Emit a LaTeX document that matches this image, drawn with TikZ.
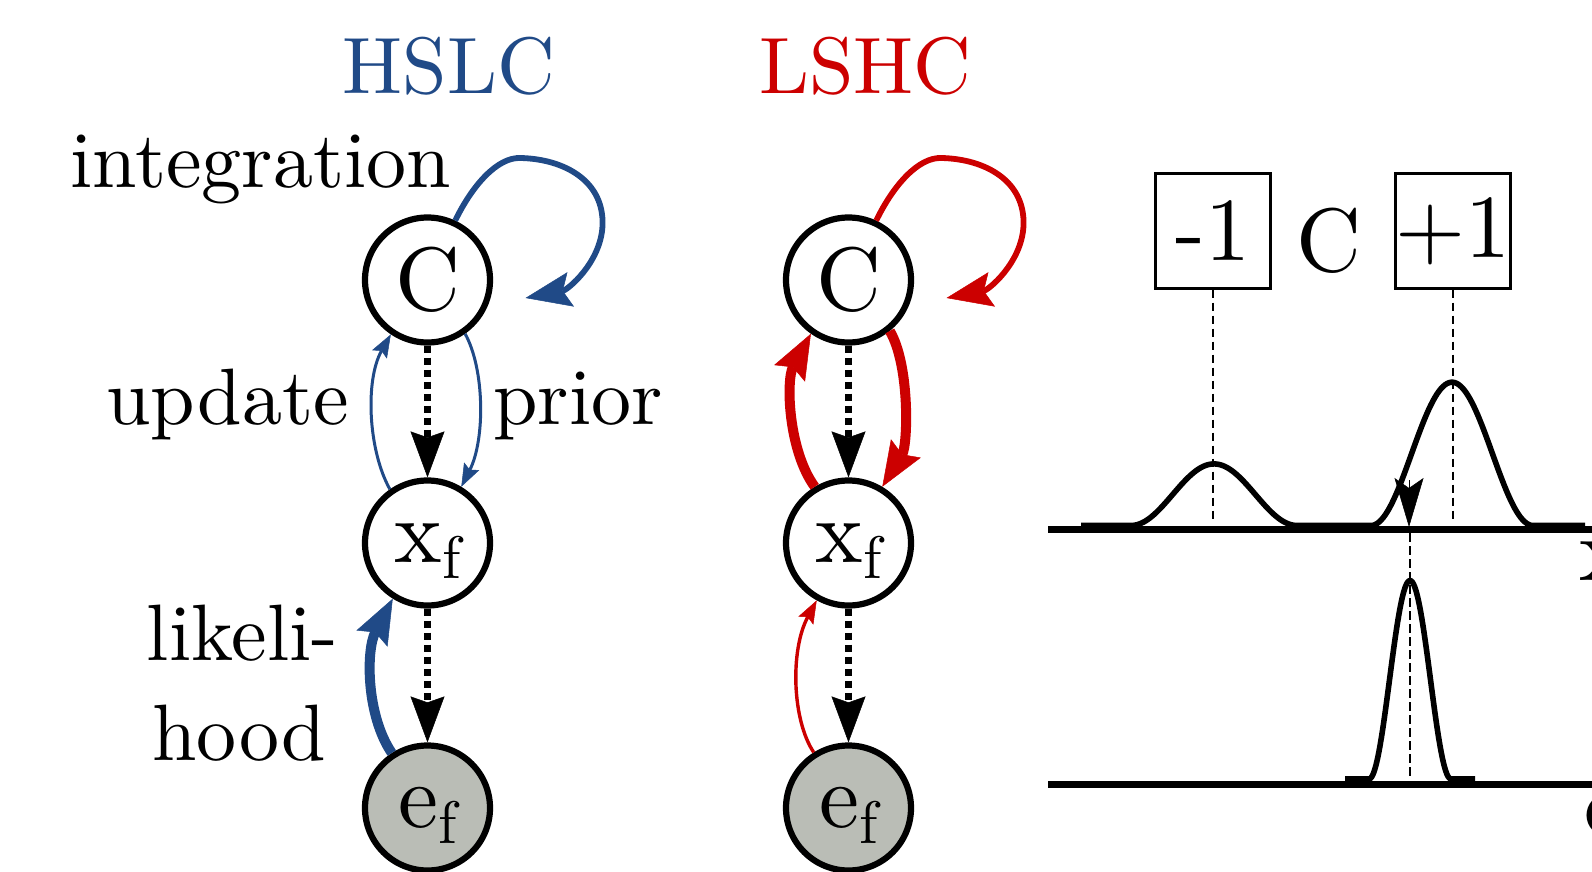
\documentclass[tikz,border=0pt]{standalone}
\usepackage{fontspec}
\setmainfont{lmroman10-regular.otf}
\usetikzlibrary{arrows.meta,calc}
\definecolor{hsblue}{HTML}{204A87}
\definecolor{lsred}{HTML}{CC0000}
\definecolor{obsgray}{HTML}{BABDB6}
\newcommand{\labfont}{\fontsize{80}{96}\selectfont}
\newcommand{\nodefont}{\fontsize{90}{108}\selectfont}
\newcommand{\lowsub}[2]{#1\raisebox{-16pt}{\fontsize{60}{72}\selectfont #2}}

\begin{document}
\begin{tikzpicture}[x=1pt,y=-1pt,
  var/.style={circle, draw, line width=6.2pt, minimum size=125pt, inner sep=0pt, font=\nodefont},
  lowvar/.style={var, text height=45pt, text depth=7pt},
  obs/.style={lowvar, fill=obsgray},
  gen/.style={line width=7.5pt, dash pattern=on 7pt off 5pt,
    -{Stealth[length=46pt,width=34pt,inset=6pt,line width=0.5pt]}},
  weakarr/.style={line width=3pt, -{Stealth[length=23pt,width=17pt,inset=4pt,line width=0.5pt]}},
  strongarr/.style={line width=10pt, -{Stealth[length=45pt,width=35pt,inset=7pt,line width=0.5pt]}},
  looparr/.style={line width=5.8pt, -{Stealth[length=46pt,width=35pt,inset=8pt,line width=0.5pt]}},
  lab/.style={font=\labfont, inner sep=0pt},
  box/.style={draw, line width=2.7pt, minimum width=115pt, minimum height=114.5pt, inner sep=0pt, font=\nodefont},
  guide/.style={line width=2.6pt, dash pattern=on 8.5pt off 4.5pt},
  axis/.style={line width=6.3pt},
  curve/.style={line width=5.6pt, line join=round}]
\useasboundingbox (0,0) rectangle (1592,872);

% ---- titles and labels
\node[lab, text=hsblue, anchor=base] (t1) at (449,94) {HSLC};
\node[lab, text=lsred, anchor=base] (t2) at (865.5,94) {LSHC};
\node[lab, anchor=base east] (lint) at (451,187) {integration};
\node[lab, anchor=base east] (lupd) at (349,424) {update};
\node[lab, anchor=base west] (lpri) at (493,424) {prior};
\node[lab, anchor=base] (llik) at (242.5,660) {likeli-};
\node[lab, anchor=base] (lhood) at (239,760) {hood};

% ---- left model
\node[var] (C1) at (427.5,280) {C};
\node[lowvar] (X1) at (427.5,543) {\lowsub{x}{f}};
\node[obs] (E1) at (427.5,808) {\lowsub{e}{f}};

% ---- right model
\node[var] (C2) at (848.5,280) {C};
\node[lowvar] (X2) at (848.5,543) {\lowsub{x}{f}};
\node[obs] (E2) at (848.5,808) {\lowsub{e}{f}};

% generative (dotted) links
\draw[gen] (C1) -- (X1);
\draw[gen] (X1) -- (E1);
\draw[gen] (C2) -- (X2);
\draw[gen] (X2) -- (E2);

% integration loops
\coordinate (L1end) at ($(C1)+(98,18)$);
\draw[looparr, hsblue] (C1.65) .. controls ($(C1)+(45,-95)$) and ($(C1)+(70,-123)$) .. ($(C1)+(93,-122)$)
  .. controls ($(C1)+(137,-121)$) and ($(C1)+(177,-99)$) .. ($(C1)+(175,-54)$)
  .. controls ($(C1)+(173,-17)$) and ($(C1)+(140,10)$) .. (L1end);
\coordinate (L2end) at ($(C2)+(98,18)$);
\draw[looparr, lsred] (C2.65) .. controls ($(C2)+(45,-95)$) and ($(C2)+(70,-123)$) .. ($(C2)+(93,-122)$)
  .. controls ($(C2)+(137,-121)$) and ($(C2)+(177,-99)$) .. ($(C2)+(175,-54)$)
  .. controls ($(C2)+(173,-17)$) and ($(C2)+(140,10)$) .. (L2end);

% inference links, left (HSLC)
\draw[weakarr, hsblue] (X1.125) .. controls (368,450) and (365,380) .. (C1.236);
\draw[weakarr, hsblue] (C1.-55) .. controls (485,370) and (485,440) .. (X1.59);
\draw[strongarr, hsblue] (E1.123) .. controls (366,715) and (366,650) .. (X1.238);

% inference links, right (LSHC)
\draw[strongarr, lsred] (X2.121) .. controls (788,450) and (786,380) .. (C2.235);
\draw[strongarr, lsred] (C2.-51) .. controls (910,365) and (908,445) .. (X2.59);
\draw[weakarr, lsred, line width=3.4pt] (E2.122) .. controls (792,720) and (790,650) .. (X2.241);

% ---- densities
\node[box] (m1) at (1213,231) {-1};
\node[box] (p1) at (1453,231) {+1};
\node[font=\nodefont, inner sep=0pt] (cl) at (1329,240.5) {C};
\coordinate (base1) at (0,523);
\draw[guide] (m1.south) -- (m1.south |- base1);
\draw[guide] (p1.south) -- (p1.south |- base1);

\draw[axis] (1048,529.5) -- (1600,529.5);
\draw[axis] (1048,784.5) -- (1600,784.5);

\draw[curve] (1081,525.5) -- (1131,525.5)
  -- plot[domain=1131:1297, samples=80] (\x,{525.5-30.8*(1+cos(180*(\x-1214)/83))})
  -- (1371,525.5)
  -- plot[domain=1371:1533, samples=80] (\x,{525.5-71.65*(1+cos(180*(\x-1452)/81))})
  -- (1585,525.5);

\draw[curve] (1345,779) -- (1369,779)
  -- plot[domain=1369:1451, samples=60] (\x,{779-99.25*(1+cos(180*(\x-1410)/41))})
  -- (1475,779);

% sampled value
\coordinate (smpl) at (1409,527);
\coordinate (smplbk) at (1409,480);
\draw[line width=1pt, -{Stealth[length=49pt,width=29pt,inset=10pt,line width=0.5pt]}] (smplbk) -- (smpl);
\coordinate (dtop) at (1410,533);
\coordinate (dbot) at (1410,777);
\draw[guide] (dtop) -- (dbot);

% axis names
\node[font=\nodefont, anchor=base west, inner sep=0pt] (xlab) at (1579,580) {\lowsub{x}{f}};
\node[font=\nodefont, anchor=base west, inner sep=0pt] (elab) at (1584,835) {\lowsub{e}{f}};
\end{tikzpicture}
\end{document}
